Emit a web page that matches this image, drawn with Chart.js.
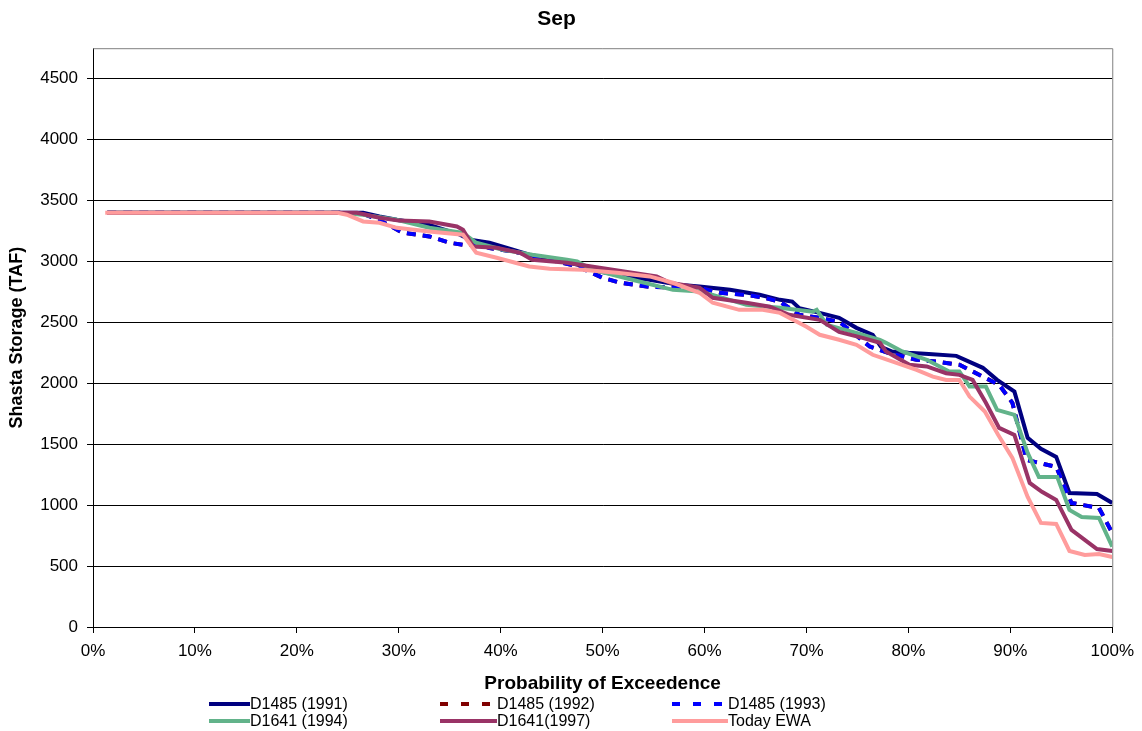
<!DOCTYPE html>
<html>
<head>
<meta charset="utf-8">
<script src="https://cdn.jsdelivr.net/npm/chart.js@4.4.1/dist/chart.umd.min.js"></script>
<style>
  html, body { margin: 0; padding: 0; background: #fff; }
  #wrap { width: 1142px; height: 731px; }
</style>
</head>
<body>
<div id="wrap"><canvas id="chart" width="1142" height="731"></canvas></div>
<script>
// probability of exceedence (%) and Shasta storage (TAF)
const prob1991 = [1.4, 24, 26.5, 28.1, 29.8, 33, 36, 37, 38.9, 41.2, 42.8, 45, 47.5, 49.7, 52, 54.6, 57.5, 59.5, 62.5, 65.4, 67.4, 68.6, 69.3, 71.3, 73.2, 74.9, 76.5, 77.3, 78.4, 80, 82, 84.7, 87.3, 88.7, 90.4, 91.7, 93, 94.5, 95.8, 98.5, 100];
const stor1991 = [3400, 3400, 3400, 3369, 3342, 3300, 3220, 3178, 3153, 3096, 3055, 3020, 2975, 2918, 2880, 2850, 2808, 2795, 2767, 2726, 2685, 2671, 2617, 2578, 2537, 2455, 2398, 2300, 2261, 2250, 2240, 2225, 2127, 2028, 1932, 1552, 1462, 1396, 1100, 1092, 1018];

const prob1992 = [1.4, 24, 26.5, 28.1, 30.4, 33, 35, 36.3, 37.9, 38.9, 41, 43, 45, 47.5, 50, 51.7, 54.6, 57.3, 59.5, 61.5, 64.1, 66, 67.4, 69.3, 71.3, 73.2, 74.5, 76.2, 78, 80.8, 82.7, 85, 87.3, 88.9, 90.2, 91.6, 94.5, 96, 98.7, 100];
const stor1992 = [3400, 3400, 3390, 3340, 3235, 3205, 3153, 3137, 3137, 3110, 3085, 3050, 3010, 2960, 2866, 2825, 2792, 2784, 2784, 2743, 2726, 2700, 2669, 2562, 2537, 2505, 2420, 2302, 2250, 2193, 2179, 2152, 2055, 1987, 1840, 1371, 1314, 1018, 977, 772];

const prob1993 = [1.4, 24, 26.5, 28.1, 30.4, 33, 35, 36.3, 37.9, 38.9, 41, 43, 45, 47.5, 50, 51.7, 54.6, 57.3, 59.5, 61.5, 64.1, 66, 67.4, 69.3, 71.3, 73.2, 74.5, 76.2, 78, 80.8, 82.7, 85, 87.3, 88.9, 90.2, 91.6, 94.5, 96, 98.7, 100];
const stor1993 = [3400, 3400, 3390, 3340, 3235, 3205, 3153, 3137, 3137, 3110, 3085, 3050, 3010, 2960, 2866, 2825, 2792, 2784, 2784, 2743, 2726, 2700, 2669, 2562, 2537, 2505, 2420, 2302, 2250, 2193, 2179, 2152, 2055, 1987, 1840, 1371, 1314, 1018, 977, 772];

const prob1994 = [1.4, 24, 26.5, 29.8, 33, 36.3, 37.6, 40.2, 43.1, 46.5, 47.5, 49, 52.9, 56.9, 59.5, 60.8, 64.1, 67.4, 70.6, 71, 72, 74.9, 77.2, 77.8, 79.4, 81.8, 84, 85, 86, 87.6, 88.7, 90.4, 91.7, 92.8, 94.6, 95.8, 97, 98.7, 100];
const stor1994 = [3400, 3400, 3383, 3342, 3276, 3235, 3153, 3096, 3055, 3014, 3000, 2932, 2850, 2767, 2753, 2726, 2644, 2620, 2587, 2603, 2480, 2414, 2357, 2332, 2261, 2193, 2097, 2097, 1973, 1973, 1782, 1741, 1429, 1232, 1232, 961, 903, 895, 660];

const prob1997 = [1.4, 25.9, 28.1, 30, 33, 35.7, 36.3, 37.3, 39.6, 41.9, 43.1, 46.5, 49.7, 52.9, 55.3, 56.6, 59.5, 60.8, 64.1, 66.4, 68.3, 71.3, 73.2, 75.5, 77.2, 77.8, 80.1, 81.8, 83.7, 85, 86.3, 87.6, 88.9, 90.4, 91.9, 93.1, 94.5, 96, 98.5, 100];
const stor1997 = [3400, 3400, 3358, 3335, 3328, 3287, 3260, 3123, 3112, 3071, 3014, 2989, 2948, 2907, 2877, 2825, 2784, 2702, 2661, 2628, 2562, 2521, 2422, 2373, 2332, 2261, 2152, 2138, 2083, 2069, 2028, 1840, 1634, 1577, 1182, 1109, 1043, 797, 640, 624];

const probEWA = [1.2, 24, 24.9, 26.5, 28.1, 29.8, 33, 36.3, 37.6, 39.6, 42.8, 44.8, 48, 51.4, 54.6, 56.9, 59.5, 60.8, 63.4, 65.7, 67.4, 70, 71.3, 73.2, 74.9, 76.5, 78.4, 80.8, 82.4, 83.7, 85, 86, 87.5, 88.8, 90.2, 91.7, 93, 94.5, 95.8, 97.3, 98.7, 100];
const storEWA = [3400, 3400, 3383, 3328, 3317, 3276, 3246, 3219, 3071, 3030, 2959, 2940, 2932, 2907, 2877, 2825, 2743, 2661, 2603, 2603, 2578, 2464, 2398, 2357, 2316, 2234, 2179, 2110, 2055, 2028, 2028, 1891, 1768, 1577, 1388, 1068, 854, 846, 624, 591, 599, 575];

const seriesNames = ['D1485 (1991)', 'D1485 (1992)', 'D1485 (1993)', 'D1641 (1994)', 'D1641(1997)', 'Today EWA'];
const seriesColors = ['#000080', '#800000', '#0000ff', '#62b38a', '#993366', '#ff9c9c'];
const seriesDashed = [false, true, true, false, false, false];
const probs = [prob1991, prob1992, prob1993, prob1994, prob1997, probEWA];
const stors = [stor1991, stor1992, stor1993, stor1994, stor1997, storEWA];

Chart.defaults.font.family = "'Liberation Sans', Arial, sans-serif";
Chart.defaults.color = '#000';

const datasets = seriesNames.map((name, i) => ({
    label: name,
    data: probs[i].map((p, k) => ({ x: p, y: stors[i][k] })),
    borderColor: seriesColors[i],
    backgroundColor: seriesColors[i],
    borderWidth: 4,
    borderDash: seriesDashed[i] ? [9, 7] : [],
    pointRadius: 0,
    tension: 0,
    fill: false,
    // later series on top, like the original
    order: seriesNames.length - i
}));

// gray frame on top / right of the plot area
const frame = {
    id: 'frame',
    beforeDatasetsDraw(chart) {
        const { ctx, chartArea: a } = chart;
        ctx.save();
        ctx.strokeStyle = '#808080';
        ctx.lineWidth = 1;
        ctx.beginPath();
        ctx.moveTo(a.left, a.top + 0.5);
        ctx.lineTo(a.right + 0.5, a.top + 0.5);
        ctx.lineTo(a.right + 0.5, a.bottom);
        ctx.stroke();
        ctx.restore();
    }
};

// legend: three columns, two rows
const legendBox = {
    id: 'legendBox',
    afterDraw(chart) {
        const ctx = chart.ctx;
        const cols = [[209, 250], [440, 497], [672, 728]];
        const rows = [704, 721];
        ctx.save();
        ctx.font = "16px 'Liberation Sans', Arial, sans-serif";
        ctx.textBaseline = 'middle';
        ctx.fillStyle = '#000';
        seriesNames.forEach((name, i) => {
            const c = cols[i % 3];
            const y = rows[Math.floor(i / 3)];
            ctx.beginPath();
            ctx.strokeStyle = seriesColors[i];
            ctx.lineWidth = 4;
            ctx.setLineDash(seriesDashed[i] ? [8, 13] : []);
            ctx.moveTo(c[0], y);
            ctx.lineTo(c[1], y);
            ctx.stroke();
            ctx.setLineDash([]);
            ctx.fillText(name, c[1], y + 1);
        });
        ctx.restore();
    }
};

new Chart(document.getElementById('chart'), {
    type: 'line',
    data: { datasets },
    plugins: [frame, legendBox],
    options: {
        responsive: false,
        animation: false,
        layout: { padding: { top: 0, right: 29, bottom: 34, left: 0 } },
        plugins: {
            legend: { display: false },
            tooltip: { enabled: false },
            title: {
                display: true,
                text: 'Sep',
                color: '#000',
                font: { size: 21, weight: 'bold' },
                padding: { top: 7, bottom: 16 }
            }
        },
        scales: {
            x: {
                type: 'linear',
                min: 0,
                max: 100,
                ticks: {
                    stepSize: 10,
                    padding: 8,
                    font: { size: 17 },
                    color: '#000',
                    callback: v => v + '%'
                },
                grid: { drawOnChartArea: false, drawTicks: true, tickLength: 6, color: '#000' },
                border: { color: '#000', width: 1 },
                title: {
                    display: true,
                    text: 'Probability of Exceedence',
                    color: '#000',
                    font: { size: 19, weight: 'bold' },
                    padding: { top: 0, bottom: 2 }
                },
                afterFit(s) { s.height = 70; }
            },
            y: {
                min: 0,
                max: 4750,
                ticks: {
                    stepSize: 250,
                    padding: 9,
                    font: { size: 17 },
                    color: '#000',
                    callback: v => String(v)
                },
                afterBuildTicks(s) {
                    s.ticks = s.ticks.filter(t => t.value % 500 === 0);
                },
                grid: { color: '#000', lineWidth: 1, tickLength: 6 },
                border: { color: '#000', width: 1 },
                title: {
                    display: true,
                    text: 'Shasta Storage (TAF)',
                    color: '#000',
                    font: { size: 18, weight: 'bold' },
                    padding: { top: 6, bottom: 0 }
                },
                afterFit(s) { s.width = 93; }
            }
        }
    }
});
</script>
</body>
</html>
